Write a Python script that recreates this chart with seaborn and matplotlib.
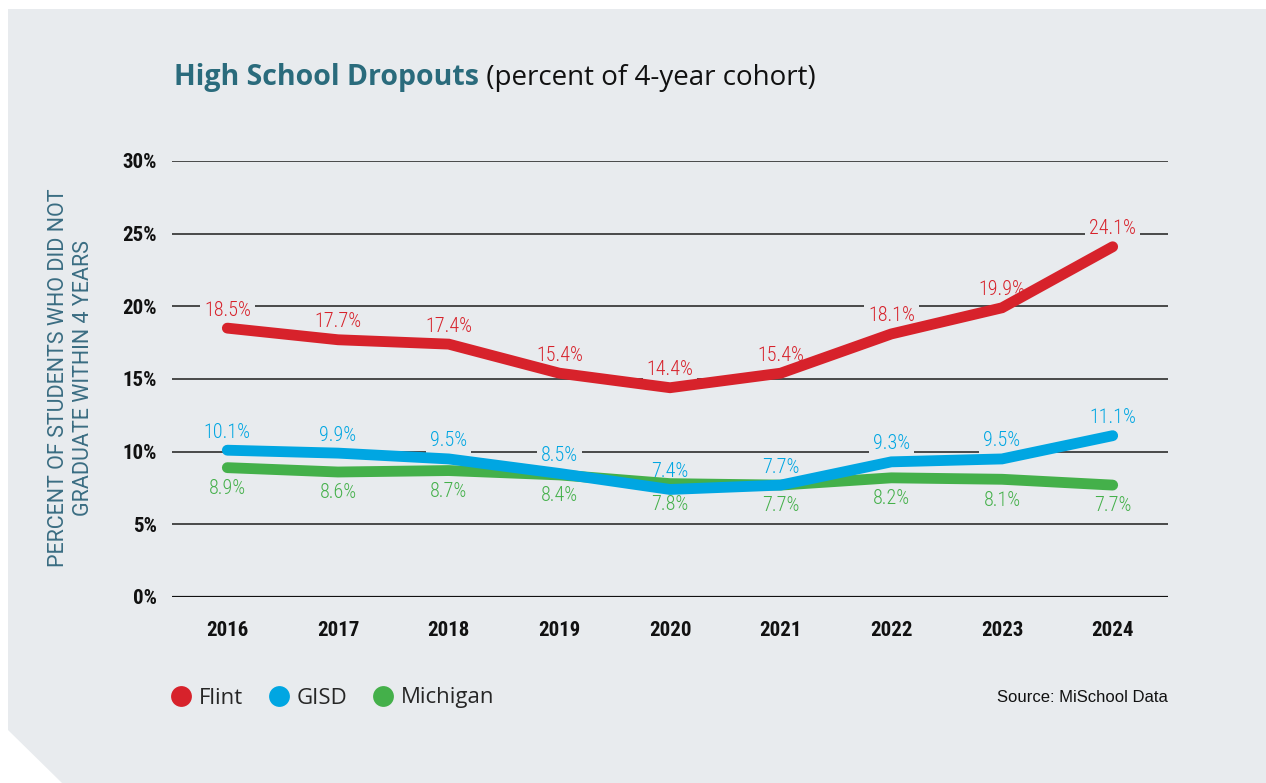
import matplotlib.pyplot as plt
import matplotlib.patches as mpatches
from matplotlib.lines import Line2D
import numpy as np
import pandas as pd
import seaborn as sns

# === Data ===
years = [2016, 2017, 2018, 2019, 2020, 2021, 2022, 2023, 2024]
flint = [18.5, 17.7, 17.4, 15.4, 14.4, 15.4, 18.1, 19.9, 24.1]
gisd = [10.1, 9.9, 9.5, 8.5, 7.4, 7.7, 9.3, 9.5, 11.1]
michigan = [8.9, 8.6, 8.7, 8.4, 7.8, 7.7, 8.2, 8.1, 7.7]
y_ticks = [0, 5, 10, 15, 20, 25, 30]

series = {"Michigan": michigan, "GISD": gisd, "Flint": flint}
colors = {"Flint": "#d7222b", "GISD": "#00a6e2", "Michigan": "#44b04a"}
# label offset (points): positive above the line, negative below
label_offset = {"Flint": 13, "GISD": 13, "Michigan": -15}

df = pd.DataFrame([
    {"Year": yr, "Value": v, "Region": name}
    for name, vals in series.items() for yr, v in zip(years, vals)
])

BG = "#e8ebee"
NARROW = ["Roboto Condensed", "DejaVu Sans"]

sns.set_style("white")
fig = plt.figure(figsize=(12.66, 7.83), dpi=100, facecolor="white")

# Background panel with a clipped bottom-left corner
W, H = 1266, 783
pts = [(8, 9), (W, 9), (W, H), (62, H), (8, 730)]
panel = mpatches.Polygon([(x / W, 1 - y / H) for x, y in pts], closed=True,
                         transform=fig.transFigure, facecolor=BG,
                         edgecolor="none", zorder=-10)
fig.patches.append(panel)

ax = fig.add_axes([172 / W, 1 - 597 / H, (1168 - 172) / W, (597 - 161) / H])
ax.set_facecolor("none")

# Grid lines
for t in y_ticks:
    if t == 0:
        ax.axhline(t, color="#111111", lw=2.3, zorder=1)
    else:
        ax.axhline(t, color="#3c3c3c", lw=1.3, zorder=1)

sns.lineplot(data=df, x="Year", y="Value", hue="Region",
             hue_order=["Michigan", "GISD", "Flint"], palette=colors,
             lw=7.8, ax=ax, legend=False, zorder=3,
             solid_capstyle="round", solid_joinstyle="miter")

# Data labels (under the lines, over the grid)
for name, vals in series.items():
    off = label_offset[name]
    for yr, v in zip(years, vals):
        ax.annotate(f"{v}%", xy=(yr, v), xytext=(0, off), textcoords="offset points",
                    ha="center", va="center",
                    fontsize=14.5, color=colors[name], family=NARROW,
                    fontstretch="condensed", fontweight="light", zorder=2,
                    bbox=dict(boxstyle="square,pad=0.2", fc=BG, ec="none"))

ax.set_xlim(2015.5, 2024.5)
ax.set_ylim(0, 30)
ax.set_xticks(years)
ax.set_xticklabels([str(y) for y in years])
ax.set_yticks(y_ticks)
ax.set_yticklabels([f"{t}%" for t in y_ticks])
ax.tick_params(axis="both", length=0, labelsize=15, labelcolor="#111111")
ax.tick_params(axis="y", pad=11)
ax.tick_params(axis="x", pad=17)
for lab in ax.get_xticklabels() + ax.get_yticklabels():
    lab.set_family(NARROW)
    lab.set_fontstretch("condensed")
    lab.set_fontweight("bold")
for s in ax.spines.values():
    s.set_visible(False)
ax.set_xlabel("")
ax.set_ylabel("")

# Y axis title
fig.text(71 / W, 1 - 378 / H, "PERCENT OF STUDENTS WHO DID NOT\nGRADUATE WITHIN 4 YEARS",
         rotation=90, ha="center", va="center", fontsize=15.5, color="#3a6d82",
         family=["Roboto", "DejaVu Sans"], linespacing=1.3)

# Title
t1 = fig.text(174 / W, 1 - 78 / H, "High School Dropouts", fontsize=20.5,
              fontweight="bold", color="#2a6b7c", va="center",
              family=["Open Sans", "DejaVu Sans"], fontstretch="condensed")
fig.canvas.draw()
bb = t1.get_window_extent()
fig.text(bb.x1 / fig.bbox.width, 1 - 78 / H, " (percent of 4-year cohort)",
         va="center", fontsize=20, color="#111111",
         family=["Open Sans", "DejaVu Sans"])

# Legend
handles = [Line2D([], [], marker="o", ls="none", markersize=15,
                  markerfacecolor=colors[n], markeredgecolor="none", label=n)
           for n in ["Flint", "GISD", "Michigan"]]
fig.legend(handles=handles, loc="center left", bbox_to_anchor=(170 / W, 1 - 698 / H),
           ncol=3, frameon=False, handlelength=1.0, handletextpad=0.3,
           columnspacing=1.1, borderaxespad=0, borderpad=0,
           prop={"family": ["Open Sans", "DejaVu Sans"], "size": 16})

fig.text(1168 / W, 1 - 698 / H, "Source: MiSchool Data", ha="right", va="center",
         fontsize=12, color="#111111", family=["Liberation Sans", "DejaVu Sans"],
         fontstretch="condensed")

fig.savefig("out.png", dpi=100, facecolor="white")
